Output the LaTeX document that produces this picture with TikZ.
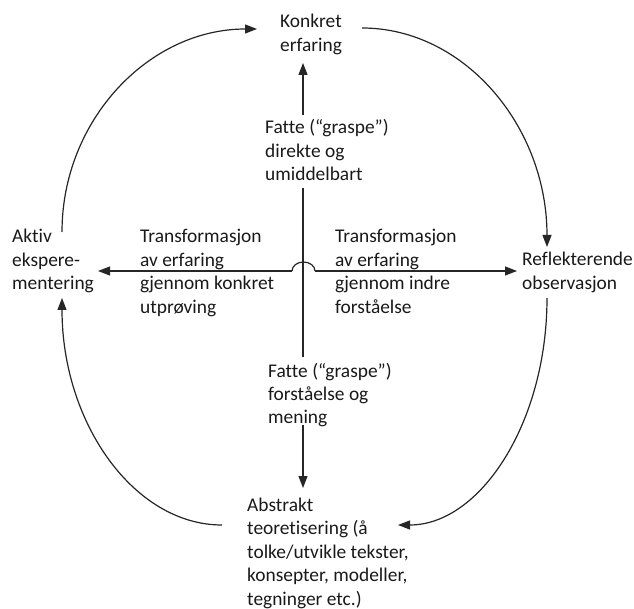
\documentclass[tikz,border=0pt]{standalone}
\usepackage{fontspec}
\setmainfont[Ligatures=CommonOff]{Carlito}
\usetikzlibrary{arrows.meta}
\begin{document}
\begin{tikzpicture}[x=1pt,y=-1pt,
  % a multi-line node's base anchor sits on its last line
  lbl/.style={anchor=base west,inner sep=0pt,align=left,
    font=\fontsize{19.4}{23.4}\selectfont,text=black!90},
  conn/.style={line width=1.2pt,draw=black!85},
  arr/.style={conn,-{Triangle[length=12pt,width=9pt]}}]
\path[use as bounding box] (0,0) rectangle (634,609);

% stages of the cycle
\node[lbl] (konkret) at (280,51.4) {Konkret\\erfaring};
\node[lbl] (refl) at (522,289.4) {Reflekterende\\observasjon};
\node[lbl] (abstr) at (247,605) {Abstrakt\\teoretisering (å\\tolke/utvikle tekster,\\konsepter, modeller,\\tegninger etc.)};
\node[lbl] (aktiv) at (12,289.8) {Aktiv\\ekspere-\\mentering};

% axis labels
\node[lbl] (fatteA) at (265,180.8) {Fatte (“graspe”)\\direkte og\\umiddelbart};
\node[lbl] (fatteB) at (268,423.8) {Fatte (“graspe”)\\forståelse og\\mening};
\node[lbl] (transL) at (140,313.2) {Transformasjon\\av erfaring\\gjennom konkret\\utprøving};
\node[lbl] (transR) at (335,313.2) {Transformasjon\\av erfaring\\gjennom indre\\forståelse};

% connector end points
\coordinate (vTop) at (303,63);
\coordinate (vA) at (303,115);
\coordinate (vB) at (303,188);
\coordinate (vC) at (303,357);
\coordinate (vD) at (303,425);
\coordinate (vBot) at (303,488);
\coordinate (hL) at (98,271);
\coordinate (hR) at (517,271);
\coordinate (hopL) at (292,271);
\coordinate (hopR) at (315,271);

% vertical axis
\draw[arr] (vA) -- (vTop);
\draw[conn] (vB) -- (vC);
\draw[arr] (vD) -- (vBot);

% horizontal axis with a hop over the vertical one
\draw[arr] (hopL) -- (hL);
\draw[arr] (hopR) -- (hR);
\draw[conn] (hopL) arc[start angle=180,end angle=0,x radius=11.5pt,y radius=9pt];

% outer cycle
\coordinate (c1s) at (62,232);   \coordinate (c1e) at (257,29);
\coordinate (c2s) at (362,28);   \coordinate (c2e) at (547,247);
\coordinate (c3s) at (547,298);  \coordinate (c3e) at (398,525);
\coordinate (c4s) at (222,525);  \coordinate (c4e) at (62,298);
\draw[arr] (c1s) .. controls (62,120) and (149,29) .. (c1e);
\draw[arr] (c2s) .. controls (464,28) and (547,126) .. (c2e);
\draw[arr] (c3s) .. controls (547,423) and (480,525) .. (c3e);
\draw[arr] (c4s) .. controls (134,525) and (62,423) .. (c4e);
\end{tikzpicture}
\end{document}
